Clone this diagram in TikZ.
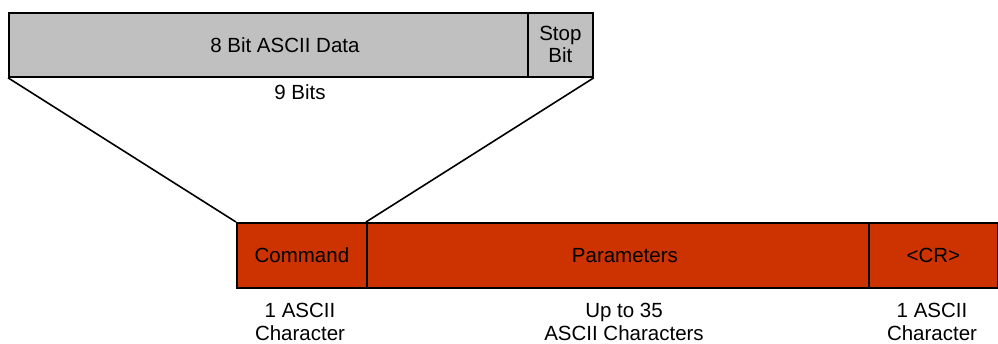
\documentclass[tikz,border=0pt]{standalone}
\usepackage{fontspec}
\setmainfont{Liberation Sans}
\definecolor{boxgray}{HTML}{C0C0C0}
\definecolor{boxred}{HTML}{CC3300}
\begin{document}
\begin{tikzpicture}[x=1pt,y=-1pt,
  field/.style={draw=black,line width=1.8pt,inner sep=0pt,anchor=north west,font=\fontsize{20.5}{22}\selectfont,align=center},
  lbl/.style={font=\fontsize{20.5}{23.5}\selectfont,align=center,inner sep=0pt},
  link/.style={draw=black,line width=1.6pt}]
\useasboundingbox (0,0) rectangle (998,344);
\node[field,fill=boxgray,minimum width=519pt,minimum height=64pt] (data) at (8,12) {\hspace*{33pt}8 Bit ASCII Data};
\node[field,fill=boxgray,minimum width=65pt,minimum height=64pt] (stop) at (527,12) {Stop\\Bit};
\node[lbl,anchor=base] (nine) at (300,100) {9 Bits};
\node[field,fill=boxred,minimum width=130pt,minimum height=65pt] (cmd) at (236,222) {Command};
\node[field,fill=boxred,minimum width=502pt,minimum height=65pt] (par) at (366,222) {\hspace*{14pt}Parameters};
\node[field,fill=boxred,minimum width=129pt,minimum height=65pt] (cr) at (868,222) {<CR>};
\node[lbl,anchor=north] (l1) at (300,302.5) {1 ASCII\\Character};
\node[lbl,anchor=north] (l2) at (624,302.5) {Up to 35\\ASCII Characters};
\node[lbl,anchor=north] (l3) at (932,302.5) {1 ASCII\\Character};
\draw[link] (data.south west) -- (cmd.north west);
\draw[link] (stop.south east) -- (par.north west);
\end{tikzpicture}
\end{document}
